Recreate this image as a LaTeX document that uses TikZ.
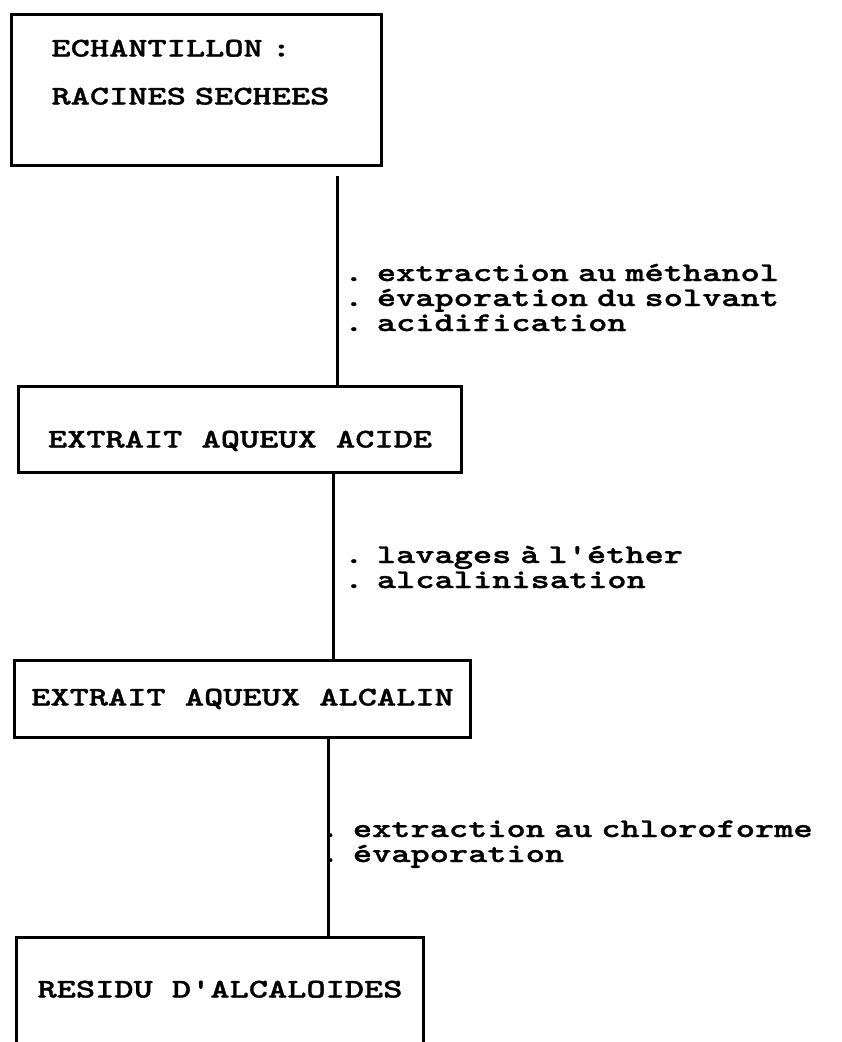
\documentclass[tikz,border=0pt]{standalone}
\usepackage{fontspec}
\newfontfamily\typew{lmmonolt10-bold.otf}[FakeStretch=1.355,FakeBold=1.2,Ligatures=TeXOff]
\newcommand{\typed}{\typew\fontsize{27pt}{25pt}\selectfont}
\usepackage{tikz}
\usetikzlibrary{positioning}

\begin{document}
\begin{tikzpicture}[
            box/.style={rectangle, draw, line width=3pt, inner ysep=0pt, font=\typed, align=left},
            steps/.style={font=\typed, align=left, text width=520pt, inner sep=0pt, anchor=base west},
            link/.style={line width=3pt}
        ]
        \useasboundingbox (0,0) rectangle (842pt,-1042pt);
        \clip (0,0) rectangle (842pt,-1042pt);
        % Boxes
        \node[box, anchor=north west, minimum width=370pt, text width=290pt, text height=42pt, text depth=109pt] (samp) at (10pt,-13pt) {ECHANTILLON :\\[23pt]RACINES SECHEES};
        \node[box, below right=218pt and 7pt of samp.south west, minimum width=443pt, text height=61pt, text depth=25pt] (acid) {EXTRAIT AQUEUX ACIDE};
        \node[box, below right=185pt and -4pt of acid.south west, minimum width=456pt, text height=45pt, text depth=32pt] (alca) {EXTRAIT AQUEUX ALCALIN};
        % bottom edge runs off the page
        \node[box, below right=197pt and 2pt of alca.south west, minimum width=407pt, text height=60pt, text depth=120pt] (resi) {RESIDU D'ALCALOIDES};
        % Links
        \coordinate (k1) at ([xshift=327pt]samp.south west);
        \coordinate (k2) at ([xshift=316pt]acid.south west);
        \coordinate (k3) at ([xshift=315pt]alca.south west);
        \draw[link] ([yshift=-9pt]k1) -- (k1 |- acid.north);
        \draw[link] (k2) -- (k2 |- alca.north);
        \draw[link] (k3) -- (k3 |- resi.north);
        % Operations
        \node[steps] (ops1) at ([shift={(7pt,-114pt)}]k1) {. extraction au méthanol\\. évaporation du solvant\\. acidification};
        \node[steps] (ops2) at ([shift={(11pt,-89pt)}]k2) {. lavages à l'éther\\. alcalinisation};
        \node[steps] (ops3) at ([shift={(-8pt,-98pt)}]k3) {. extraction au chloroforme\\. évaporation};
    \end{tikzpicture}
\end{document}
